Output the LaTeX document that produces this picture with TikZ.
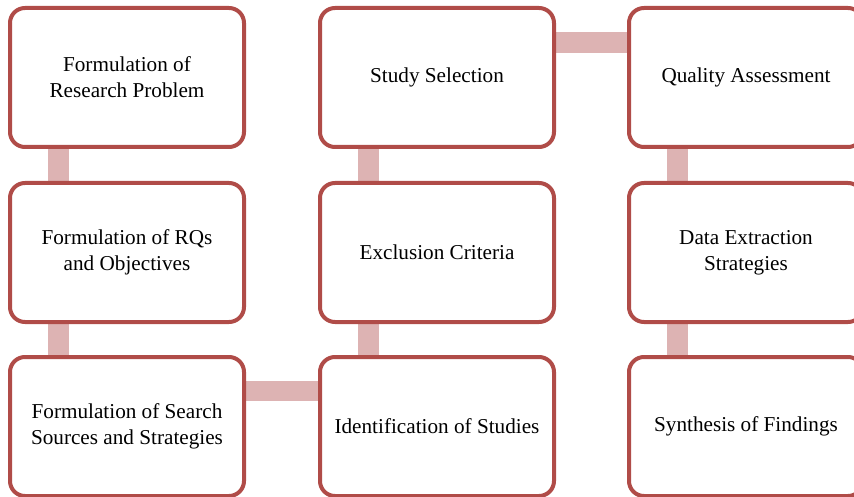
\documentclass[tikz,border=0pt]{standalone}
\usepackage{fontspec}
\setmainfont{Liberation Serif}
\usetikzlibrary{backgrounds}
\definecolor{boxred}{RGB}{176,76,72}
\definecolor{connpink}{RGB}{221,179,179}
\begin{document}
\begin{tikzpicture}[x=1pt,y=-1pt,
  stagebox/.style={draw=boxred, fill=white, line width=4pt, rounded corners=15pt,
    minimum width=234pt, minimum height=139pt, align=center, inner sep=0pt,
    font=\fontsize{21.2}{26}\selectfont, text=black},
  conn/.style={draw=connpink, line width=20.5pt}]
\useasboundingbox (0,0) rectangle (854,497);
\node[stagebox] (a) at (127,77.5) {Formulation of\\Research Problem};
\node[stagebox] (b) at (127,252.5) {Formulation of RQs\\and Objectives};
\node[stagebox] (c) at (127,426.5) {Formulation of Search\\Sources and Strategies};
\node[stagebox] (d) at (437,426.5) {Identification of Studies};
\node[stagebox] (e) at (437,252.5) {Exclusion Criteria};
\node[stagebox] (f) at (437,77.5) {Study Selection};
\node[stagebox] (g) at (746,77.5) {Quality Assessment};
\node[stagebox] (h) at (746,252.5) {Data Extraction\\Strategies};
\node[stagebox] (i) at (746,426.5) {Synthesis of Findings};
\begin{scope}[on background layer]
\draw[conn] ([xshift=-68.5pt]a.south) -- ([xshift=-68.5pt]b.north);
\draw[conn] ([xshift=-68.5pt]b.south) -- ([xshift=-68.5pt]c.north);
\draw[conn] ([yshift=35.5pt]c.east) -- ([yshift=35.5pt]d.west);
\draw[conn] ([xshift=-68.5pt]d.north) -- ([xshift=-68.5pt]e.south);
\draw[conn] ([xshift=-68.5pt]e.north) -- ([xshift=-68.5pt]f.south);
\draw[conn] ([yshift=35pt]f.east) -- ([yshift=35pt]g.west);
\draw[conn] ([xshift=-68.5pt]g.south) -- ([xshift=-68.5pt]h.north);
\draw[conn] ([xshift=-68.5pt]h.south) -- ([xshift=-68.5pt]i.north);
\end{scope}
\end{tikzpicture}
\end{document}
